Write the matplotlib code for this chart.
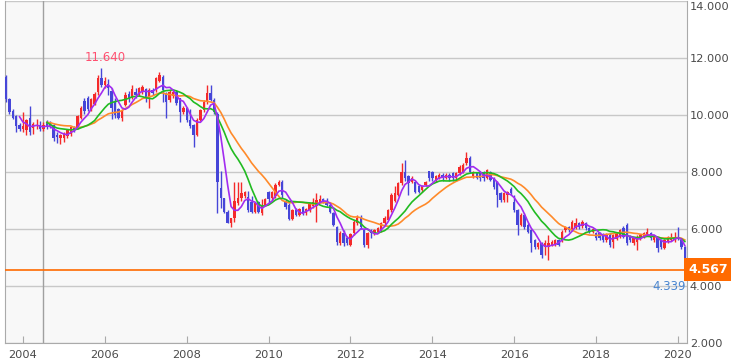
import matplotlib
matplotlib.use("Agg")
import matplotlib.pyplot as plt
import numpy as np
import pandas as pd
from matplotlib.patches import Rectangle
from matplotlib.transforms import ScaledTranslation

# ---- data: monthly candles, Aug 2003 .. Mar 2020 ----
start_month = "2003-08"
opens = [
    11.35, 10.55, 10.15, 9.95, 9.65,
    9.52, 9.47, 9.90, 9.55, 9.60, 9.65, 9.50, 9.75, 9.70, 9.65, 9.30, 9.20,
    9.18, 9.25, 9.32, 9.55, 9.55, 9.90, 10.50, 10.60, 10.20, 10.40, 10.80, 11.30,
    11.05, 11.10, 10.85, 10.50, 10.20, 9.90, 10.35, 10.75, 10.60, 10.80, 10.70, 10.82,
    10.90, 10.58, 10.88, 10.88, 11.20, 11.35, 10.76, 10.53, 10.65, 10.82, 10.58, 10.12,
    10.23, 9.82, 9.65, 9.30, 9.82, 10.17, 10.47, 10.76, 10.53, 10.05, 7.43, 7.08,
    6.61, 6.22, 6.37, 6.90, 7.08, 7.15, 7.13, 6.96, 6.60, 6.96, 6.55, 6.84,
    7.31, 7.08, 7.15, 7.54, 7.66, 7.00, 6.84, 6.34, 6.66, 6.50, 6.78, 6.55,
    6.65, 6.80, 6.80, 6.95, 7.05, 7.00, 6.85, 6.55, 6.08, 5.50, 5.85, 5.70,
    5.44, 5.85, 6.20, 6.43, 5.96, 5.44, 5.95, 5.85, 5.90, 5.95, 6.20, 6.32,
    6.67, 7.00, 7.19, 7.60, 8.01, 7.85, 7.66, 7.66, 7.50, 7.38, 7.55, 8.03,
    8.00, 7.72, 7.80, 7.90, 7.78, 7.90, 7.95, 7.78, 7.95, 8.01, 8.30, 8.48,
    7.85, 7.95, 8.01, 8.01, 7.78, 8.01, 7.78, 7.66, 7.25, 7.02, 7.19, 7.42,
    6.96, 6.67, 6.14, 6.49, 6.14, 5.96, 5.61, 5.38, 5.50, 5.38, 5.38, 5.44,
    5.44, 5.61, 5.61, 5.96, 6.08, 5.97, 6.03, 6.20, 6.10, 6.20, 6.03, 5.91,
    5.85, 5.85, 5.79, 5.61, 5.79, 5.55, 5.65, 5.73, 6.03, 6.14, 5.73, 5.50,
    5.55, 5.67, 5.73, 5.79, 5.85, 5.61, 5.67, 5.61, 5.32, 5.55, 5.61, 5.60,
    5.73, 5.61, 5.38,
]
highs = [
    11.42, 10.60, 10.20, 10.00, 9.72,
    10.10, 9.85, 10.30, 9.75, 9.85, 9.80, 9.75, 9.82, 9.78, 9.70, 9.40, 9.35,
    9.40, 9.52, 9.62, 9.60, 10.00, 10.30, 10.60, 10.65, 10.60, 10.80, 11.40, 11.64,
    11.35, 11.25, 10.95, 10.60, 10.25, 10.20, 10.80, 10.85, 11.05, 10.95, 11.00, 11.05,
    10.95, 10.95, 10.95, 11.35, 11.52, 11.40, 10.80, 10.88, 10.88, 10.88, 10.60, 10.30,
    10.28, 10.20, 9.70, 9.88, 10.22, 10.52, 11.05, 11.05, 10.60, 10.10, 8.05, 7.10,
    6.65, 6.40, 7.66, 7.66, 7.66, 7.35, 7.35, 7.15, 6.95, 7.00, 7.05, 7.10,
    7.35, 7.35, 7.60, 7.72, 7.72, 7.05, 6.90, 6.70, 6.72, 6.75, 6.80, 6.75,
    6.92, 7.10, 7.25, 7.20, 7.10, 7.08, 6.90, 6.60, 6.10, 5.92, 5.95, 5.75,
    5.85, 6.30, 6.50, 6.50, 6.00, 5.88, 6.00, 6.00, 6.08, 6.25, 6.45, 6.70,
    7.25, 7.50, 7.65, 8.30, 8.42, 7.90, 7.85, 7.70, 7.55, 7.55, 7.70, 8.05,
    8.05, 7.90, 7.95, 7.95, 7.95, 7.95, 8.00, 8.00, 8.25, 8.30, 8.71, 8.55,
    8.05, 8.00, 8.05, 8.05, 8.10, 8.05, 7.82, 7.70, 7.30, 7.30, 7.35, 7.48,
    7.19, 6.70, 6.55, 6.55, 6.20, 6.00, 5.65, 5.55, 5.55, 5.61, 5.80, 5.60,
    5.65, 5.65, 5.95, 6.10, 6.12, 6.30, 6.40, 6.25, 6.30, 6.25, 6.08, 6.05,
    5.90, 5.90, 5.85, 5.85, 5.85, 5.82, 5.90, 6.00, 6.10, 6.20, 5.78, 5.72,
    5.78, 5.82, 5.88, 6.02, 5.90, 5.78, 5.70, 5.65, 5.65, 5.75, 5.85, 5.90,
    6.08, 5.65, 5.40,
]
lows = [
    10.45, 10.05, 9.85, 9.40, 9.45,
    9.40, 9.30, 9.30, 9.35, 9.50, 9.45, 9.45, 9.50, 9.55, 9.10, 9.02, 9.00,
    9.05, 9.20, 9.28, 9.42, 9.50, 9.85, 10.05, 10.15, 10.15, 10.35, 10.70, 11.00,
    10.95, 10.70, 9.85, 9.90, 9.85, 9.80, 10.30, 10.45, 10.55, 10.60, 10.65, 10.75,
    10.45, 10.23, 10.70, 10.80, 11.15, 10.47, 9.88, 10.45, 10.60, 10.35, 9.77, 10.05,
    9.75, 9.55, 8.89, 9.25, 9.78, 10.10, 10.40, 10.48, 10.05, 6.55, 6.72, 6.55,
    6.20, 6.08, 6.25, 6.85, 7.00, 7.10, 6.60, 6.55, 6.55, 6.55, 6.50, 6.80,
    6.95, 7.00, 7.10, 7.50, 7.10, 6.70, 6.30, 6.30, 6.45, 6.45, 6.50, 6.50,
    6.60, 6.75, 6.26, 6.90, 6.90, 6.80, 6.55, 6.10, 5.45, 5.45, 5.40, 5.45,
    5.40, 5.80, 6.15, 6.00, 5.38, 5.32, 5.70, 5.80, 5.85, 5.90, 6.15, 6.30,
    6.60, 6.95, 7.15, 7.55, 7.70, 7.20, 7.60, 7.25, 7.25, 7.30, 7.50, 7.70,
    7.70, 7.65, 7.75, 7.70, 7.75, 7.70, 7.70, 7.70, 7.90, 7.95, 8.25, 7.95,
    7.80, 7.75, 7.70, 7.70, 7.75, 7.70, 7.40, 6.78, 6.95, 6.95, 6.95, 7.20,
    6.60, 5.79, 6.10, 6.00, 5.85, 5.20, 5.30, 5.30, 5.00, 5.09, 4.91, 5.40,
    5.40, 5.40, 5.55, 5.90, 5.90, 5.92, 6.00, 6.00, 6.05, 5.98, 5.85, 5.85,
    5.60, 5.60, 5.55, 5.55, 5.38, 5.32, 5.60, 5.70, 5.70, 5.45, 5.55, 5.45,
    5.26, 5.60, 5.70, 5.75, 5.60, 5.55, 5.20, 5.30, 5.30, 5.50, 5.58, 5.55,
    5.60, 5.30, 4.339,
]
closes = [
    10.55, 10.12, 9.90, 9.60, 9.52,
    9.62, 9.82, 9.40, 9.70, 9.65, 9.50, 9.65, 9.58, 9.62, 9.18, 9.22, 9.30,
    9.35, 9.48, 9.58, 9.50, 9.95, 10.25, 10.15, 10.20, 10.55, 10.75, 11.30, 11.05,
    11.20, 10.95, 10.25, 10.00, 9.90, 10.15, 10.70, 10.60, 10.90, 10.70, 10.95, 11.00,
    10.60, 10.88, 10.76, 11.29, 11.40, 10.88, 10.47, 10.82, 10.82, 10.41, 10.12, 10.23,
    9.82, 9.60, 9.30, 9.82, 10.17, 10.47, 10.76, 10.53, 10.12, 7.66, 7.08, 6.61,
    6.22, 6.37, 7.00, 7.08, 7.25, 7.30, 6.67, 6.60, 6.90, 6.60, 6.84, 7.07,
    7.07, 7.30, 7.54, 7.66, 7.19, 6.78, 6.34, 6.66, 6.50, 6.70, 6.55, 6.70,
    6.90, 6.95, 7.02, 7.05, 7.00, 6.85, 6.60, 6.14, 5.56, 5.85, 5.50, 5.50,
    5.81, 6.26, 6.38, 6.08, 5.44, 5.85, 5.85, 5.95, 6.04, 6.20, 6.38, 6.67,
    7.19, 7.25, 7.60, 8.01, 7.78, 7.60, 7.78, 7.31, 7.31, 7.50, 7.65, 7.78,
    7.78, 7.85, 7.90, 7.78, 7.90, 7.78, 7.78, 7.95, 8.19, 8.25, 8.48, 8.01,
    8.01, 7.78, 7.78, 7.78, 8.07, 7.72, 7.49, 7.19, 7.02, 7.25, 7.31, 7.25,
    6.67, 6.14, 6.49, 6.08, 5.91, 5.50, 5.38, 5.50, 5.09, 5.50, 5.50, 5.56,
    5.61, 5.44, 5.91, 6.08, 5.96, 6.26, 6.20, 6.08, 6.26, 6.03, 5.91, 6.00,
    5.67, 5.70, 5.61, 5.79, 5.44, 5.79, 5.85, 5.97, 5.73, 5.50, 5.61, 5.67,
    5.73, 5.79, 5.85, 5.91, 5.67, 5.73, 5.32, 5.38, 5.61, 5.73, 5.73, 5.73,
    5.67, 5.38, 4.567,
]
year_ticks = [2004, 2006, 2008, 2010, 2012, 2014, 2016, 2018, 2020]
price_ticks = [2.0, 4.0, 6.0, 8.0, 10.0, 12.0, 14.0]
ma_windows = {"short": 5, "mid": 13, "long": 20}
marker_year = 2004.49
max_label = "11.640"
min_label = "4.339"
last_label = "4.567"

# ---- derived ----
n = len(closes)
months = pd.period_range(start=start_month, periods=n, freq="M")
xs = np.array([p.year + (p.month - 1) / 12.0 for p in months])
o = np.array(opens); h = np.array(highs); l = np.array(lows); c = np.array(closes)
cs = pd.Series(c)
ma_s = cs.rolling(ma_windows["short"]).mean().values
ma_m = cs.rolling(ma_windows["mid"]).mean().values
ma_l = cs.rolling(ma_windows["long"], min_periods=1).mean().values
ma_l[:ma_windows["mid"] - 1] = np.nan

W, H = 731, 363
fig = plt.figure(figsize=(W / 100, H / 100), dpi=100)
fig.patch.set_facecolor("white")
ax = fig.add_axes([5 / W, 20 / H, 682 / W, 342 / H])
ax.set_facecolor("#f8f8f8")
ax.set_xlim(2003.561, 2020.22)
ax.set_ylim(2.0, 14.0)

for y in price_ticks:
    ax.axhline(y, color="#c8c8c8", lw=1.0, zorder=1)
ax.axvline(marker_year, color="#a0a0a0", lw=1.0, zorder=1)

red = "#f42a2a"
blue = "#4646d8"
bw = 0.7 / 12
for xi, oi, hi, li, ci in zip(xs, o, h, l, c):
    col = red if ci >= oi else blue
    ax.vlines(xi, li, hi, color=col, lw=1.0, zorder=3)
    bottom = min(oi, ci)
    height = max(abs(ci - oi), 0.03)
    ax.add_patch(Rectangle((xi - bw / 2, bottom), bw, height, facecolor=col,
                           edgecolor="none", zorder=4))

ax.plot(xs, ma_l, color="#ff8a2a", lw=1.2, zorder=5)
ax.plot(xs, ma_m, color="#22bb22", lw=1.2, zorder=5)
ax.plot(xs, ma_s, color="#a22cf0", lw=1.2, zorder=6)

last = c[-1]
ax.axhline(last, color="#ff6a00", lw=1.2, zorder=7)

imax = int(np.argmax(h))
imin = int(np.argmin(l))
ax.text(xs[imax] + 0.1, h[imax] + 0.15, max_label, color="#ff5070", fontsize=8.5,
        ha="center", va="bottom", zorder=8)
ax.text(xs[imin] + 0.02, l[imin] - 0.12, min_label, color="#4a86d0", fontsize=8.5,
        ha="right", va="top", zorder=8)

ax.spines["top"].set_visible(False)
for side in ["bottom", "right", "left"]:
    ax.spines[side].set_color("#aaaaaa")

ax.yaxis.tick_right()
ax.set_yticks(price_ticks)
ax.set_yticklabels([f"{v:.3f}" for v in price_ticks])
ax.tick_params(axis="y", length=0, pad=2, labelsize=8.2, labelcolor="#4a4a4a")
ax.set_xticks(year_ticks)
ax.set_xticklabels([str(y) for y in year_ticks])
ax.tick_params(axis="x", direction="in", length=5, color="#aaaaaa", pad=5,
               labelsize=8.2, labelcolor="#4a4a4a")
# keep the top price label inside the figure
top_lbl = ax.get_yticklabels()[-1]
top_lbl.set_transform(top_lbl.get_transform() +
                      ScaledTranslation(0, -5 / 100, fig.dpi_scale_trans))

# last-price badge
ax.text(1.0025, last, last_label, transform=ax.get_yaxis_transform(),
        ha="left", va="center", color="white", fontsize=9, fontweight="bold",
        zorder=9, clip_on=False,
        bbox=dict(boxstyle="square,pad=0.4", facecolor="#ff6a00", edgecolor="none"))

fig.savefig("out.png", dpi=100, facecolor="white")
